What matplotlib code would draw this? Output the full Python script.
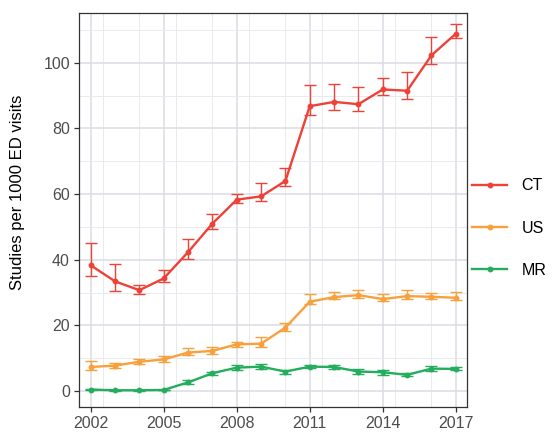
import matplotlib.pyplot as plt
from matplotlib.ticker import MultipleLocator

plt.rcParams['font.family'] = ['Liberation Sans', 'DejaVu Sans']

years = list(range(2002, 2018))

# CT studies per 1000 ED visits, with lower/upper error bounds
ct = [38.3, 33.4, 30.7, 34.3, 42.3, 51.0, 58.3, 59.3, 64.0, 86.8, 88.1, 87.4, 91.9, 91.5, 102.3, 108.9]
ct_lo = [35.0, 30.4, 29.6, 33.1, 40.2, 49.5, 57.4, 57.8, 62.6, 84.1, 85.6, 85.3, 90.2, 88.9, 99.8, 107.7]
ct_hi = [45.1, 38.7, 32.4, 37.0, 46.4, 54.0, 60.0, 63.5, 68.1, 93.2, 93.6, 92.5, 95.4, 97.1, 107.9, 111.7]

us = [7.3, 7.7, 8.9, 9.6, 11.7, 12.2, 14.2, 14.4, 19.3, 27.2, 28.6, 29.2, 28.0, 28.9, 28.7, 28.4]
us_lo = [6.4, 6.9, 8.1, 8.7, 10.9, 11.4, 13.4, 13.5, 18.4, 26.6, 27.9, 28.4, 27.4, 28.1, 28.1, 27.7]
us_hi = [9.0, 8.6, 9.8, 10.5, 13.2, 13.3, 15.0, 16.3, 20.8, 29.4, 30.2, 30.9, 29.4, 30.7, 29.7, 30.1]

mr = [0.4, 0.2, 0.2, 0.3, 2.6, 5.4, 7.1, 7.4, 5.9, 7.4, 7.3, 5.9, 5.7, 4.9, 6.8, 6.7]
mr_lo = [0.2, 0.1, 0.1, 0.2, 2.0, 4.8, 6.4, 6.7, 5.3, 6.9, 6.7, 5.3, 5.0, 4.4, 6.1, 6.3]
mr_hi = [0.6, 0.3, 0.3, 0.4, 3.3, 5.9, 7.9, 8.1, 6.4, 8.0, 7.9, 6.6, 6.4, 5.5, 7.6, 7.2]

series = [
    ('CT', ct, ct_lo, ct_hi, '#EE4137'),
    ('US', us, us_lo, us_hi, '#F8A03C'),
    ('MR', mr, mr_lo, mr_hi, '#23AD5C'),
]

fig = plt.figure(figsize=(5.52, 4.37), dpi=100)
ax = fig.add_axes([79 / 552, 30 / 437, 388 / 552, 394 / 437])

handles = []
for name, vals, lo, hi, col in series:
    err = [[v - l for v, l in zip(vals, lo)], [h - v for v, h in zip(vals, hi)]]
    ax.errorbar(years, vals, yerr=err, fmt='none', ecolor=col, elinewidth=1.0,
                capsize=4.2, capthick=1.0, zorder=3)
    h, = ax.plot(years, vals, color=col, lw=1.7, marker='o', markersize=3.2, zorder=4, label=name)
    handles.append(h)

ax.set_xlim(2001.52, 2017.46)
ax.set_ylim(-4.9, 115.2)
ax.set_xticks([2002, 2005, 2008, 2011, 2014, 2017])
ax.xaxis.set_minor_locator(MultipleLocator(1.5))
ax.yaxis.set_minor_locator(MultipleLocator(10))
ax.set_yticks([0, 20, 40, 60, 80, 100])

ax.grid(which='major', color='#DADDE3', lw=1.1)
ax.grid(which='minor', color='#E8EAEE', lw=0.7)
ax.set_axisbelow(True)
for s in ax.spines.values():
    s.set_color('#333333')
    s.set_linewidth(0.9)

ax.tick_params(which='major', length=3.5, width=0.9, color='#333333',
               labelsize=11.5, labelcolor='#4D4D4D', pad=3)
ax.tick_params(which='minor', length=0)
ax.set_ylabel('Studies per 1000 ED visits', fontsize=12, color='black')
ax.yaxis.set_label_coords(-0.139, 0.546)

fig.legend(handles=handles, loc='center left', bbox_to_anchor=(472 / 552, 0.478),
           frameon=False, fontsize=11.5, borderpad=0, borderaxespad=0,
           handlelength=2.2, handletextpad=0.9, labelspacing=1.72)

fig.savefig('out.png', dpi=100)
